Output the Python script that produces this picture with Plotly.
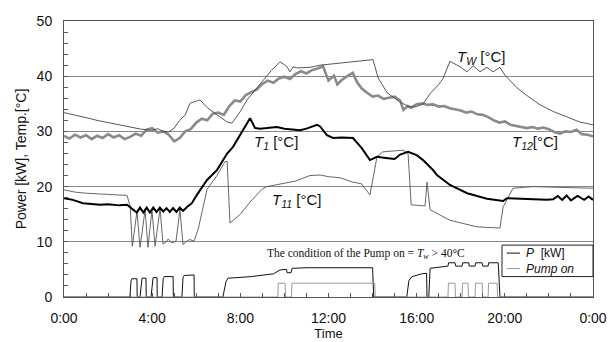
import plotly.graph_objects as go

# ---------------- data (time in hours) ----------------
t12_t = [0.00,0.25,0.50,0.75,1.00,1.25,1.50,1.75,2.00,2.25,2.50,2.75,3.00,3.25,3.50,3.75,4.00,4.25,4.50,4.75,
         5.00,5.25,5.50,5.75,6.00,6.25,6.50,6.75,7.00,7.25,7.50,7.75,8.00,8.25,8.50,8.75,9.00,9.25,9.50,9.75,
         10.00,10.25,10.50,10.75,11.00,11.25,11.50,11.75,12.00,12.25,12.40,12.60,12.85,13.10,13.30,13.50,13.75,
         14.00,14.25,14.50,14.75,15.00,15.25,15.40,15.60,15.75,16.00,16.25,16.50,16.75,17.00,17.25,17.50,17.75,
         18.00,18.25,18.50,18.75,19.00,19.25,19.50,19.75,20.00,20.25,20.50,20.75,21.00,21.25,21.50,21.75,22.00,
         22.25,22.50,22.75,23.00,23.25,23.50,23.75,24.00]
t12_v = [29.2,28.7,29.4,28.9,29.3,28.6,29.2,28.8,29.5,28.9,29.3,28.6,29.0,29.6,29.2,30.3,30.6,29.8,30.0,29.4,
         28.2,28.8,30.0,30.4,31.6,32.3,32.0,33.2,33.4,33.0,34.6,35.6,35.4,36.6,37.1,37.6,38.6,39.2,38.8,39.6,
         39.9,39.5,40.4,40.9,40.5,41.1,41.4,41.8,39.2,40.1,38.5,39.3,40.0,40.6,38.9,37.8,37.0,
         36.3,36.5,35.9,36.1,36.3,35.6,33.9,34.6,34.3,34.9,35.1,34.8,34.9,34.5,34.6,34.2,34.0,
         33.8,33.4,33.6,33.1,33.0,32.6,32.0,31.6,31.8,31.2,31.0,30.7,30.6,30.8,30.5,30.7,30.4,
         29.9,29.6,30.0,29.9,30.3,29.5,29.4,29.1]

tw_t = [0.00,0.5,1.0,1.5,2.0,2.5,3.0,3.5,4.0,4.25,4.5,4.75,5.0,5.25,5.5,5.72,6.0,6.17,6.5,7.0,7.4,7.62,8.0,8.3,
        8.7,9.03,9.4,9.8,10.1,10.25,10.39,10.6,11.16,11.62,12.1,12.52,13.0,13.5,14.02,14.25,14.66,14.93,15.25,
        15.70,16.0,16.3,16.6,17.0,17.2,17.51,17.97,18.29,18.56,18.87,19.19,19.47,19.78,20.0,20.55,21.0,21.6,
        22.2,22.82,23.4,24.0]
tw_v = [33.4,33.0,32.5,32.0,31.6,31.1,30.7,30.4,30.2,30.5,30.0,29.9,30.6,32.0,33.0,35.1,35.5,35.7,34.3,32.8,31.7,31.5,33.6,35.7,
        37.6,39.3,41.0,42.6,41.8,40.8,41.7,41.5,41.6,42.0,42.2,42.4,42.6,42.8,43.0,39.7,37.0,36.2,35.3,
        34.4,34.5,35.0,36.8,38.5,39.6,42.7,41.7,40.8,41.9,40.8,41.6,40.8,41.6,40.2,37.9,36.5,34.8,
        33.6,32.6,31.7,31.2]

t1_t = [0.00,0.4,0.86,1.2,1.63,2.0,2.5,2.86,3.0,3.13,3.30,3.45,3.60,3.75,3.90,4.05,4.20,4.35,4.50,4.65,4.80,4.95,
        5.10,5.25,5.40,5.58,5.80,6.03,6.49,6.94,7.40,7.67,8.12,8.44,8.67,8.9,9.21,9.66,10.0,10.4,10.71,11.0,11.48,
        11.62,11.93,12.21,12.6,13.11,13.5,13.88,14.2,14.6,15.0,15.25,15.61,16.0,16.29,16.74,16.92,17.51,18.29,
        19.19,19.92,20.10,20.6,21.28,21.9,22.19,22.4,22.6,22.8,23.0,23.3,23.6,23.8,24.0]
t1_v = [17.9,17.6,17.0,16.9,16.7,16.8,16.6,16.7,16.3,15.8,15.3,16.2,15.3,16.2,15.3,16.2,15.4,16.2,15.5,16.1,15.4,16.1,
        15.4,16.2,15.6,16.3,17.0,18.5,21.2,23.0,26.0,27.2,30.3,32.4,30.6,30.5,30.6,30.8,30.5,30.4,30.2,30.5,31.2,
        30.9,29.3,28.8,28.9,28.8,27.0,24.8,25.4,25.2,25.0,25.8,26.3,25.7,24.8,23.0,22.1,20.3,18.8,
        17.8,17.4,17.9,17.8,17.6,17.6,17.7,18.3,17.6,18.4,17.5,18.3,17.6,18.2,17.6]

t11_t = [0.00,0.5,1.0,1.5,2.0,2.5,2.86,3.0,3.10,3.31,3.45,3.68,3.81,3.99,4.13,4.36,4.49,4.65,4.72,4.90,5.08,5.26,
         5.40,5.60,5.72,5.90,6.10,6.49,6.94,7.30,7.40,7.53,8.0,8.44,9.0,9.21,9.8,10.5,11.16,11.62,12.0,12.52,13.11,
         13.5,13.88,14.11,14.2,14.47,15.0,15.38,15.61,15.75,16.38,16.47,16.61,17.51,18.74,19.78,19.92,20.37,21.28,
         22.5,23.87,24.0]
t11_v = [19.4,19.0,18.8,18.7,18.6,18.5,18.4,16.5,9.2,15.5,9.0,15.8,9.0,15.8,9.2,16.0,9.6,10.0,10.5,9.8,10.1,15.8,
         9.5,10.2,10.4,10.1,12.5,19.5,22.0,24.5,24.6,13.4,15.0,17.2,19.6,20.0,20.4,21.0,22.0,22.1,21.8,21.6,20.8,
         20.5,18.5,23.0,25.4,26.3,26.5,26.6,26.0,16.7,16.5,20.8,15.8,13.9,12.7,12.5,16.3,19.7,20.0,
         19.9,19.7,19.7]

p_t = [0.0,2.99,3.04,3.08,3.31,3.32,3.45,3.50,3.54,3.72,3.73,3.95,4.00,4.04,4.22,4.23,4.45,4.50,4.55,4.95,4.96,
       5.35,5.40,5.45,5.90,5.91,7.21,7.35,7.44,8.5,9.5,9.8,10.1,10.12,10.3,10.35,11.0,14.0,14.05,
       15.55,15.65,15.79,16.24,16.45,16.47,16.55,16.61,17.42,17.45,17.74,17.77,18.06,18.09,18.36,18.39,18.65,18.68,
       18.97,19.00,19.24,19.27,19.70,19.78,24.0]
p_v = [0.0,0.0,2.9,3.3,3.3,0.0,0.0,3.0,3.4,3.4,0.0,0.0,3.1,3.5,3.5,0.0,0.0,3.3,3.7,3.7,0.0,
       0.0,3.5,3.9,4.0,0.0,0.0,2.8,3.4,3.7,4.2,4.9,5.0,4.4,4.4,5.2,5.3,5.3,0.0,
       0.0,3.0,3.7,4.2,4.3,0.0,0.0,5.2,5.6,6.2,6.2,5.6,5.6,6.2,6.2,5.6,5.6,6.2,
       6.2,5.6,5.6,6.2,6.2,0.0,0.0]

pump_t = [0.0,9.70,9.72,10.03,10.05,10.32,10.34,14.10,14.12,17.42,17.44,17.74,17.76,18.06,18.08,18.33,18.35,
          18.65,18.67,18.97,18.99,19.24,19.26,19.65,19.67,24.0]
pump_v = [0.0,0.0,2.5,2.5,0.0,0.0,2.5,2.5,0.0,0.0,2.5,2.5,0.0,0.0,2.5,2.5,0.0,
          0.0,2.5,2.5,0.0,0.0,2.5,2.5,0.0,0.0]

x_tickvals = [0, 4, 8, 12, 16, 20, 24]
x_ticktext = ["0:00", "4:00", "8:00", "12:00", "16:00", "20:00", "0:00"]
y_tickvals = [0, 10, 20, 30, 40, 50]
legend_labels = ["<i>P</i>  [kW]", "<i>Pump on</i>"]

P_COLOR = "#111111"
PUMP_COLOR = "#9a9a9a"

# ---------------- figure ----------------
fig = go.Figure()
fig.add_trace(go.Scatter(x=t12_t, y=t12_v, mode="lines", line=dict(color="#8a8a8a", width=2.6),
                         showlegend=False, hoverinfo="skip"))
fig.add_trace(go.Scatter(x=tw_t, y=tw_v, mode="lines", line=dict(color="#444444", width=0.9),
                         showlegend=False, hoverinfo="skip"))
fig.add_trace(go.Scatter(x=t11_t, y=t11_v, mode="lines", line=dict(color="#555555", width=0.9),
                         showlegend=False, hoverinfo="skip"))
fig.add_trace(go.Scatter(x=t1_t, y=t1_v, mode="lines", line=dict(color="#000000", width=2),
                         showlegend=False, hoverinfo="skip"))
fig.add_trace(go.Scatter(x=p_t, y=p_v, mode="lines", line=dict(color=P_COLOR, width=1),
                         name=legend_labels[0], showlegend=False))
fig.add_trace(go.Scatter(x=pump_t, y=pump_v, mode="lines", line=dict(color=PUMP_COLOR, width=1),
                         name=legend_labels[1], showlegend=False))

label_font = dict(family="Liberation Sans, Arial", size=15, color="#111")
fig.add_annotation(x=17.74, y=43.3, text="<i>T<sub>W</sub></i> [°C]", showarrow=False,
                   xanchor="left", yanchor="middle", font=label_font)
fig.add_annotation(x=8.53, y=27.9, text="<i>T<sub>1</sub></i> [°C]", showarrow=False,
                   xanchor="left", yanchor="middle", font=label_font)
fig.add_annotation(x=20.24, y=27.9, text="<i>T<sub>12</sub></i>[°C]", showarrow=False,
                   xanchor="left", yanchor="middle", font=label_font)
fig.add_annotation(x=9.35, y=17.4, text="<i>T<sub>11</sub></i> [°C]", showarrow=False,
                   xanchor="left", yanchor="middle", font=label_font)
fig.add_annotation(x=9.12, y=7.8, text="The condition of the Pump on = <i>T<sub>w</sub></i> > 40°C",
                   showarrow=False, xanchor="left", yanchor="middle",
                   font=dict(family="Liberation Serif, Times New Roman", size=11.5, color="#111"))

# compact legend box (key) in paper coordinates
fig.add_shape(type="rect", xref="paper", yref="paper", x0=0.828, x1=1.0, y0=0.074, y1=0.188,
              line=dict(color="#222", width=1), fillcolor="white", layer="above")
for row_y, col, lab in [(0.159, P_COLOR, legend_labels[0]), (0.103, PUMP_COLOR, legend_labels[1])]:
    fig.add_shape(type="line", xref="paper", yref="paper", x0=0.837, x1=0.862, y0=row_y, y1=row_y,
                  line=dict(color=col, width=1), layer="above")
    fig.add_annotation(xref="paper", yref="paper", x=0.872, y=row_y, text=lab, showarrow=False,
                       xanchor="left", yanchor="middle", borderpad=0,
                       font=dict(family="Liberation Sans, Arial", size=12, color="#111"))

fig.update_layout(
    width=608, height=342,
    margin=dict(l=64, r=15, t=21, b=45, autoexpand=False),
    paper_bgcolor="white", plot_bgcolor="white",
    font=dict(family="Liberation Sans, Arial", size=14, color="#111"),
    showlegend=False,
)
fig.update_xaxes(range=[0, 24], tickvals=x_tickvals, ticktext=x_ticktext, showgrid=False,
                 showline=True, linecolor="#555", linewidth=1, mirror=True,
                 ticks="inside", ticklen=4, tickcolor="#555",
                 minor=dict(ticks="inside", dtick=1, tick0=0, ticklen=4, tickcolor="#555"),
                 ticklabelstandoff=8, zeroline=False, automargin=False,
                 title=dict(text="Time", font=dict(size=13), standoff=4))
fig.update_yaxes(range=[0, 50], tickvals=y_tickvals, showgrid=True, gridcolor="#888", gridwidth=1,
                 showline=True, linecolor="#555", linewidth=1, mirror=True,
                 ticks="inside", ticklen=4, tickcolor="#555",
                 minor=dict(ticks="inside", dtick=2, tick0=0, ticklen=4, tickcolor="#555", showgrid=False),
                 ticklabelstandoff=8, zeroline=False, automargin=False,
                 title=dict(text="Power [kW], Temp.[°C]", font=dict(size=14), standoff=6))

fig.write_html("out.html")
